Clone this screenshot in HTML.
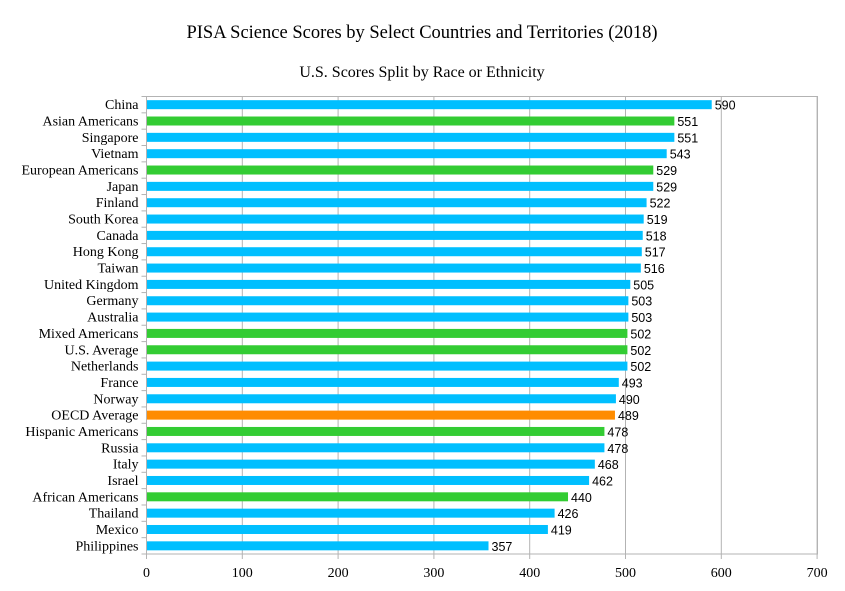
<!DOCTYPE html><html><head><meta charset="utf-8"><style>body{margin:0;background:#fff}svg{display:block}</style></head><body>
<svg id="chart" width="845" height="591" xmlns="http://www.w3.org/2000/svg" font-family="Liberation Serif, serif">
<rect width="845" height="591" fill="#fff"/>
<text x="422" y="38" text-anchor="middle" font-size="18.5" fill="#000">PISA Science Scores by Select Countries and Territories (2018)</text>
<text x="422" y="77" text-anchor="middle" font-size="16" fill="#000">U.S. Scores Split by Race or Ethnicity</text>
<g id="grid" stroke="#b3b3b3" stroke-width="1"></g>
<g id="bars"></g>
<rect x="146.5" y="96.5" width="671" height="457.5" fill="none" stroke="#b3b3b3"/>
</svg>
<script>
(function(){
var d=[["China",590,"b"],["Asian Americans",551,"g"],["Singapore",551,"b"],["Vietnam",543,"b"],["European Americans",529,"g"],["Japan",529,"b"],["Finland",522,"b"],["South Korea",519,"b"],["Canada",518,"b"],["Hong Kong",517,"b"],["Taiwan",516,"b"],["United Kingdom",505,"b"],["Germany",503,"b"],["Australia",503,"b"],["Mixed Americans",502,"g"],["U.S. Average",502,"g"],["Netherlands",502,"b"],["France",493,"b"],["Norway",490,"b"],["OECD Average",489,"o"],["Hispanic Americans",478,"g"],["Russia",478,"b"],["Italy",468,"b"],["Israel",462,"b"],["African Americans",440,"g"],["Thailand",426,"b"],["Mexico",419,"b"],["Philippines",357,"b"]];
var col={b:"#00bfff",g:"#33cc33",o:"#ff8c00"};
var ns="http://www.w3.org/2000/svg";
var g=document.getElementById("grid"),b=document.getElementById("bars");
function el(p,t,a,txt){var e=document.createElementNS(ns,t);for(var k in a)e.setAttribute(k,a[k]);if(txt!=null)e.textContent=txt;p.appendChild(e);return e;}
var x0=146.5,sc=0.958,y0=96.5,y1=554,pitch=(y1-y0)/28;
for(var v=0;v<=700;v+=100){var x=x0+v*sc;el(g,"line",{x1:x,y1:y0,x2:x,y2:y1+5});el(b,"text",{x:x,y:577,"text-anchor":"middle","font-size":"14"},String(v));}
for(var i=0;i<=28;i++){var y=y0+i*pitch;el(g,"line",{x1:x0-5,y1:y,x2:x0,y2:y});}
d.forEach(function(r,i){var c=y0+pitch*(i+0.5);
el(b,"rect",{x:x0,y:c-4.5,width:r[1]*sc,height:9,fill:col[r[2]]});
el(b,"text",{x:x0-8,y:c+4.5,"text-anchor":"end","font-size":"14"},r[0]);
el(b,"text",{x:x0+r[1]*sc+3,y:c+5,"font-size":"12.5","font-family":"Liberation Sans, sans-serif"},String(r[1]));});
})();
</script>
</body></html>
